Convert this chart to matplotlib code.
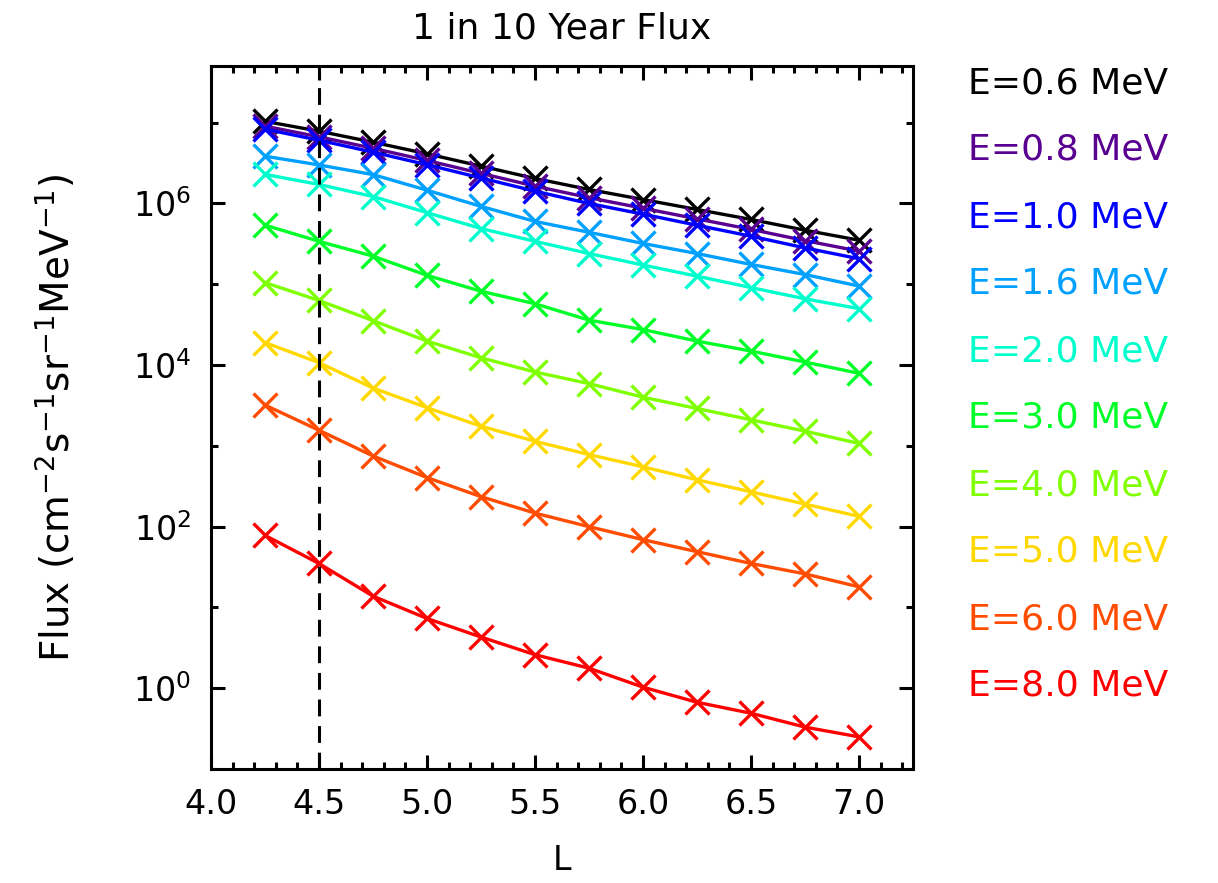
import matplotlib
matplotlib.use('Agg')
import matplotlib.pyplot as plt
from matplotlib.ticker import MultipleLocator, LogFormatterSciNotation, NullFormatter

plt.rcParams['font.family'] = ['DejaVu Sans']
plt.rcParams['font.size'] = 24

# L-shell values
L = [4.25, 4.5, 4.75, 5.0, 5.25, 5.5, 5.75, 6.0, 6.25, 6.5, 6.75, 7.0]

# Flux por energia
flux_06 = [1.04e7, 7.85e6, 5.74e6, 4.12e6, 2.90e6, 2.04e6, 1.49e6, 1.12e6, 8.43e5, 6.34e5, 4.67e5, 3.51e5]
flux_08 = [9.06e6, 6.69e6, 4.82e6, 3.41e6, 2.36e6, 1.64e6, 1.18e6, 8.73e5, 6.45e5, 4.78e5, 3.47e5, 2.57e5]
flux_10 = [8.32e6, 6.07e6, 4.32e6, 3.02e6, 2.07e6, 1.42e6, 1.00e6, 7.38e5, 5.38e5, 3.94e5, 2.82e5, 2.07e5]
flux_16 = [3.85e6, 3.0e6, 2.28e6, 1.46e6, 9.2e5, 6.0e5, 4.4e5, 3.2e5, 2.4e5, 1.76e5, 1.32e5, 9.5e4]
flux_20 = [2.29e6, 1.72e6, 1.22e6, 7.7e5, 4.9e5, 3.4e5, 2.4e5, 1.73e5, 1.26e5, 9.1e4, 6.6e4, 5.0e4]
flux_30 = [5.4e5, 3.4e5, 2.23e5, 1.29e5, 8.2e4, 5.74e4, 3.6e4, 2.75e4, 1.98e4, 1.49e4, 1.09e4, 7.9e3]
flux_40 = [1.05e5, 6.3e4, 3.55e4, 1.98e4, 1.23e4, 8.2e3, 5.9e3, 4.0e3, 2.9e3, 2.1e3, 1.52e3, 1.07e3]
flux_50 = [1.9e4, 1.07e4, 5.2e3, 2.97e3, 1.75e3, 1.14e3, 7.8e2, 5.5e2, 3.8e2, 2.7e2, 1.9e2, 1.34e2]
flux_60 = [3.2e3, 1.56e3, 7.5e2, 4.05e2, 2.35e2, 1.47e2, 1.0e2, 69, 49, 35, 26, 18]
flux_80 = [78, 35, 13.8, 7.3, 4.3, 2.6, 1.77, 1.03, 0.67, 0.49, 0.33, 0.25]

energias = ['0.6', '0.8', '1.0', '1.6', '2.0', '3.0', '4.0', '5.0', '6.0', '8.0']
series = [flux_06, flux_08, flux_10, flux_16, flux_20, flux_30, flux_40, flux_50, flux_60, flux_80]
colores = ['#000000', '#5a0090', '#0000ff', '#00a0ff', '#00ffcc', '#00ff28',
           '#80ff00', '#ffd800', '#ff4c00', '#ff0000']

L_corte = 4.5
yticks_mayor = [1, 1e2, 1e4, 1e6]
yticks_menor = [0.1, 10, 1e3, 1e5, 1e7]

fig = plt.figure(figsize=(12.18, 8.83), dpi=100)
ax = fig.add_axes([0.1732, 0.1291, 0.5764, 0.7959])

# Curvas con marcadores x
for flux, c in zip(series, colores):
    ax.plot(L, flux, color=c, lw=2.4, marker='x', markersize=17, markeredgewidth=2.4)

ax.axvline(L_corte, color='black', lw=2.2, linestyle=(0, (5.5, 3.2)))

ax.set_yscale('log')
ax.set_xlim(4.0, 7.25)
ax.set_ylim(0.1, 5e7)

# Ejes estilo IDL
ax.xaxis.set_major_locator(MultipleLocator(0.5))
ax.xaxis.set_minor_locator(MultipleLocator(0.1))
ax.xaxis.set_major_formatter(plt.FormatStrFormatter('%.1f'))
ax.set_yticks(yticks_mayor)
ax.set_yticks(yticks_menor, minor=True)
ax.yaxis.set_major_formatter(LogFormatterSciNotation(base=10))
ax.yaxis.set_minor_formatter(NullFormatter())
ax.tick_params(which='both', direction='in', top=True, right=True, width=2.2)
ax.tick_params(which='major', length=10, pad=14)
ax.tick_params(which='minor', length=5)
for s in ax.spines.values():
    s.set_linewidth(2.2)

ax.set_title('1 in 10 Year Flux', pad=20, fontsize=26)
ax.set_xlabel('L', labelpad=16)
ax.set_ylabel(r'Flux (cm$^{-2}$s$^{-1}$sr$^{-1}$MeV$^{-1}$)', labelpad=40, fontsize=28)

# Leyenda como texto de color
for i, (e, c) in enumerate(zip(energias, colores)):
    fig.text(0.795, 1 - (83 + 67 * i) / 883, 'E=' + e + ' MeV', color=c,
             fontsize=26, va='center', ha='left')

plt.savefig('out.png', dpi=100)
